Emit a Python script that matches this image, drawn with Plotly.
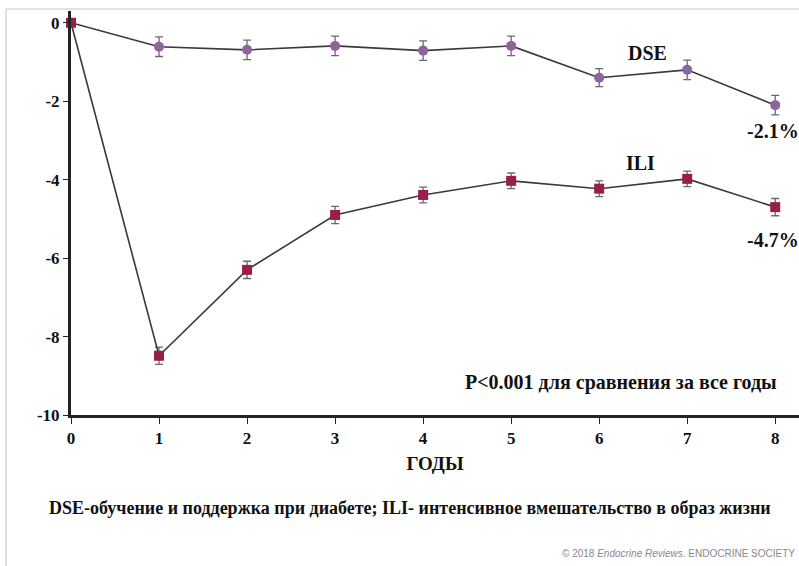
import plotly.graph_objects as go

years = [0, 1, 2, 3, 4, 5, 6, 7, 8]
dse = [0, -0.61, -0.69, -0.59, -0.71, -0.59, -1.40, -1.20, -2.1]
dse_err = [0, 0.25, 0.25, 0.25, 0.25, 0.25, 0.23, 0.25, 0.25]
ili = [0, -8.49, -6.30, -4.90, -4.39, -4.03, -4.23, -3.98, -4.7]
ili_err = [0, 0.22, 0.22, 0.22, 0.20, 0.20, 0.20, 0.20, 0.22]
tick_vals_y = [0, -2, -4, -6, -8, -10]
tick_text_y = ["0", "-2", "-4", "-6", "-8", "-10"]

W, H = 799, 566
L, R, T, B = 71, 0, 11, 151
PW, PH = W - L - R, H - T - B

def px(x):
    return (x - L) / PW

def py(y):
    return (H - B - y) / PH

serif = "'Liberation Serif', 'Times New Roman', 'DejaVu Serif', serif"
fig = go.Figure()

fig.add_trace(go.Scatter(
    x=years, y=dse, mode="lines+markers",
    line=dict(color="#3a3a3a", width=1.6),
    marker=dict(symbol="circle", size=10, color="#8c64a0"),
    error_y=dict(type="data", array=dse_err, color="#6a6a6a", thickness=1.3, width=4),
    cliponaxis=False, showlegend=False,
))
fig.add_trace(go.Scatter(
    x=years, y=ili, mode="lines+markers",
    line=dict(color="#3a3a3a", width=1.6),
    marker=dict(symbol="square", size=10, color="#9b1d4b"),
    error_y=dict(type="data", array=ili_err, color="#6a6a6a", thickness=1.3, width=4),
    cliponaxis=False, showlegend=False,
))

bold = dict(family=serif, size=20, color="#111", weight="bold")
fig.add_annotation(x=6.55, y=-0.77, text="DSE", showarrow=False, font=bold)
fig.add_annotation(x=7.97, y=-2.75, text="-2.1%", showarrow=False, font=bold)
fig.add_annotation(x=6.47, y=-3.57, text="ILI", showarrow=False, font=bold)
fig.add_annotation(x=7.97, y=-5.54, text="-4.7%", showarrow=False, font=bold)
fig.add_annotation(x=6.25, y=-9.18, text="P<0.001 для сравнения за все годы",
                   showarrow=False, font=bold)

fig.add_annotation(xref="paper", yref="paper", x=px(410), y=py(520),
                   text="DSE-обучение и поддержка при диабете; ILI- интенсивное вмешательство в образ жизни",
                   showarrow=False, font=dict(family=serif, size=18, color="#111", weight="bold"))
fig.add_annotation(xref="paper", yref="paper", x=px(797), y=py(561), xanchor="right",
                   text="© 2018 <i>Endocrine Reviews</i>. ENDOCRINE SOCIETY",
                   showarrow=False, font=dict(family="Liberation Sans", size=10, color="#888"))

# outer frame
fig.add_shape(type="line", xref="paper", yref="paper", x0=px(6), x1=px(6), y0=py(9), y1=py(566),
              line=dict(color="#c8c8c8", width=1.2))
fig.add_shape(type="line", xref="paper", yref="paper", x0=px(6), x1=px(799), y0=py(9), y1=py(9),
              line=dict(color="#c8c8c8", width=1.2))

fig.update_layout(
    width=W, height=H,
    margin=dict(l=L, r=R, t=T, b=B),
    paper_bgcolor="white", plot_bgcolor="white",
    xaxis=dict(range=[0, 8.27], tickvals=years, showgrid=False, zeroline=False,
               showline=True, linecolor="#222", linewidth=3,
               ticks="outside", ticklen=6, tickcolor="#222", tickwidth=1.2,
               tickfont=dict(family=serif, size=17, color="#111", weight="bold"),
               title=dict(text="ГОДЫ", font=dict(family=serif, size=19, color="#111", weight="bold"),
                          standoff=10)),
    yaxis=dict(range=[-10, 0.3], tickvals=tick_vals_y, ticktext=tick_text_y,
               showgrid=False, zeroline=False,
               showline=True, linecolor="#222", linewidth=3,
               ticks="outside", ticklen=5, tickcolor="#222", tickwidth=1.2,
               tickfont=dict(family=serif, size=17, color="#111", weight="bold")),
    font=dict(family=serif),
)

fig.write_html("out.html")
